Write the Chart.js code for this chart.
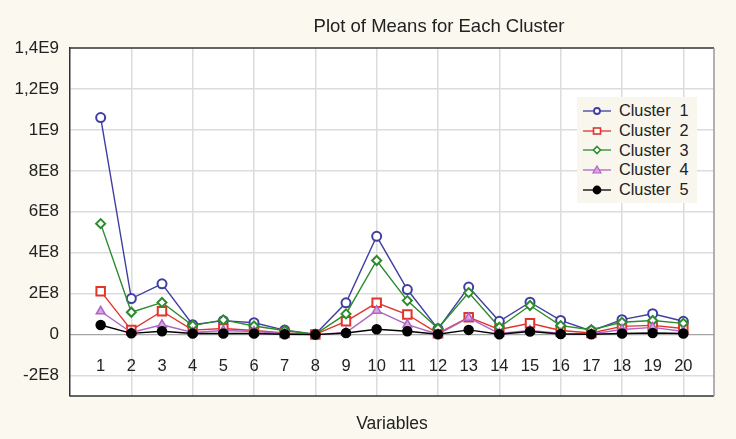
<!DOCTYPE html>
<html>
<head>
<meta charset="utf-8">
<title>Plot of Means for Each Cluster</title>
<script src="https://cdn.jsdelivr.net/npm/chart.js@4.4.0/dist/chart.umd.min.js"></script>
<style>
  html, body { margin: 0; padding: 0; background: #fbf8ef; }
  #wrap { position: relative; width: 736px; height: 439px; font-family: "Liberation Sans", Arial, sans-serif; color: #222; }
  #title { position: absolute; left: 239px; top: 15px; width: 400px; text-align: center; font-size: 18.5px; line-height: 21px; }
  #legend { position: absolute; left: 577px; top: 97px; width: 120px; height: 106px; background: #f9f6ee; padding-top: 4px; box-sizing: border-box; }
  #legend .row { height: 19.7px; display: flex; align-items: center; font-size: 16.3px; white-space: pre; }
  #legend svg { margin-left: 6px; margin-right: 8px; }
</style>
</head>
<body>
<div id="wrap">
  <canvas id="chart" width="736" height="439"></canvas>
  <div id="title">Plot of Means for Each Cluster</div>
  <div id="legend"></div>
</div>
<script>
const categories = ['1','2','3','4','5','6','7','8','9','10','11','12','13','14','15','16','17','18','19','20'];
const seriesNames = ['Cluster  1', 'Cluster  2', 'Cluster  3', 'Cluster  4', 'Cluster  5'];

const cluster1 = [1.06e9, 1.76e8, 2.48e8, 4.8e7, 6.8e7, 5.8e7, 2.2e7, 2e6, 1.55e8, 4.8e8, 2.2e8, 2.8e7, 2.32e8, 6.5e7, 1.58e8, 6.9e7, 1.8e7, 7.3e7, 1.02e8, 6.5e7];
const cluster2 = [2.12e8, 2.2e7, 1.14e8, 2.2e7, 3.0e7, 2.0e7, 8e6, 1e6, 6.5e7, 1.55e8, 9.8e7, 6e6, 8.5e7, 2.5e7, 5.5e7, 2.0e7, 8e6, 4e7, 4.5e7, 3e7];
const cluster3 = [5.42e8, 1.09e8, 1.57e8, 4.4e7, 7.2e7, 4.2e7, 2e7, 1e6, 1.01e8, 3.62e8, 1.66e8, 3e7, 2.05e8, 3.6e7, 1.42e8, 4.4e7, 2.4e7, 6e7, 6.9e7, 5.5e7];
const cluster4 = [1.14e8, 1e7, 4.8e7, 1e7, 2e7, 1.5e7, 5e6, 0, 1e7, 1.17e8, 4.9e7, 2e6, 8.2e7, 5e6, 2e7, 5e6, 3e6, 2.5e7, 3.5e7, 1.5e7];
const cluster5 = [4.7e7, 6e6, 1.6e7, 5e6, 5e6, 5e6, 2e6, 0, 8e6, 2.6e7, 1.6e7, 2e6, 2.3e7, 2e6, 1.5e7, 3e6, 2e6, 5e6, 8e6, 5e6];

const yTickValues = [-2e8, 0, 2e8, 4e8, 6e8, 8e8, 1e9, 1.2e9, 1.4e9];
const yTickLabels = ['-2E8', '0', '2E8', '4E8', '6E8', '8E8', '1E9', '1,2E9', '1,4E9'];

const allSeries = [cluster1, cluster2, cluster3, cluster4, cluster5];
const lineColors = ['#3f3fa3', '#e0352b', '#2c8c2c', '#b064c4', '#000000'];
const fillColors = ['#ffffff', '#ffffff', '#ffffff', '#d9a6e4', '#000000'];
const markers = ['circle', 'rect', 'rectRot', 'triangle', 'circle'];
const markerSizes = [4.5, 6, 4.5, 5, 4.5];

const fontFamily = '"Liberation Sans", Arial, sans-serif';

const datasets = allSeries.map((vals, i) => ({
  label: seriesNames[i],
  data: vals.map((v, j) => ({ x: j + 1, y: v })),
  borderColor: lineColors[i],
  backgroundColor: fillColors[i],
  borderWidth: 1.4,
  pointStyle: markers[i],
  pointRadius: markerSizes[i],
  pointBorderWidth: i < 3 ? 2 : 1.5,
  pointBorderColor: lineColors[i],
  pointBackgroundColor: fillColors[i],
  order: 5 - i,
  tension: 0
}));

// white plot area + frame
const plotFrame = {
  id: 'plotFrame',
  beforeDraw(chart) {
    const { ctx, chartArea: a } = chart;
    ctx.save();
    ctx.fillStyle = '#ffffff';
    ctx.fillRect(a.left, a.top, a.right - a.left, a.bottom - a.top);
    ctx.restore();
  },
  afterDraw(chart) {
    const { ctx, chartArea: a } = chart;
    ctx.save();
    ctx.lineWidth = 1.5;
    ctx.strokeStyle = '#333';
    ctx.beginPath();
    ctx.moveTo(a.left, a.top); ctx.lineTo(a.right, a.top);
    ctx.moveTo(a.left, a.bottom); ctx.lineTo(a.right, a.bottom);
    ctx.stroke();
    ctx.strokeStyle = '#999';
    ctx.beginPath();
    ctx.moveTo(a.right, a.top); ctx.lineTo(a.right, a.bottom);
    ctx.stroke();
    ctx.restore();
  }
};

const ctx = document.getElementById('chart').getContext('2d');
const myChart = new Chart(ctx, {
  type: 'line',
  data: { datasets: datasets },
  plugins: [plotFrame],
  options: {
    responsive: false,
    animation: false,
    layout: { padding: { top: 48, right: 3, left: 0, bottom: 0 } },
    plugins: {
      legend: { display: false },
      tooltip: { enabled: false },
      subtitle: {
        display: true,
        position: 'bottom',
        fullSize: false,
        text: 'Variables',
        color: '#222',
        font: { family: fontFamily, size: 17.5, weight: 'normal' },
        padding: { top: 18, bottom: 4 }
      }
    },
    scales: {
      x: {
        type: 'linear',
        min: 0,
        max: 21,
        position: { y: 0 },
        ticks: {
          stepSize: 1,
          autoSkip: false,
          maxRotation: 0,
          padding: 22,
          color: '#222',
          font: { family: fontFamily, size: 16.5 },
          callback: (v) => (v >= 1 && v <= categories.length ? categories[v - 1] : '')
        },
        grid: {
          drawTicks: false,
          lineWidth: 1.5,
          color: (c) => {
            const v = c.tick ? c.tick.value : 0;
            return (v > 0 && v < 21 && v % 2 === 0) ? '#dcdcdc' : 'rgba(0,0,0,0)';
          }
        },
        border: { display: true, color: '#a5a5a5', width: 1.2 }
      },
      y: {
        min: -3e8,
        max: 1.4e9,
        afterFit: (scale) => { scale.width = 70; },
        ticks: {
          stepSize: 1e8,
          autoSkip: false,
          padding: 11,
          color: '#222',
          font: { family: fontFamily, size: 17 },
          callback: (v) => {
            const k = yTickValues.findIndex(t => Math.abs(t - v) < 1000);
            return k >= 0 ? yTickLabels[k] : '';
          }
        },
        grid: {
          drawTicks: false,
          lineWidth: 1.5,
          color: (c) => {
            const v = c.tick ? c.tick.value : 0;
            const n = Math.round(v / 1e8);
            return (n % 2 === 0 && n >= -2 && n <= 12 && n !== 0) ? '#dcdcdc' : 'rgba(0,0,0,0)';
          }
        },
        border: { color: '#333', width: 1.5 }
      }
    }
  }
});

// legend
const legend = document.getElementById('legend');
seriesNames.forEach((name, i) => {
  const row = document.createElement('div');
  row.className = 'row';
  let mark = '';
  if (markers[i] === 'circle') mark = `<circle cx="14" cy="8" r="${i === 4 ? 3.5 : 3}" fill="${fillColors[i]}" stroke="${lineColors[i]}" stroke-width="1.8"/>`;
  if (markers[i] === 'rect') mark = `<rect x="10.5" y="5" width="7" height="6" fill="#fff" stroke="${lineColors[i]}" stroke-width="1.6"/>`;
  if (markers[i] === 'rectRot') mark = `<polygon points="14,4.5 17.5,8 14,11.5 10.5,8" fill="#fff" stroke="${lineColors[i]}" stroke-width="1.6"/>`;
  if (markers[i] === 'triangle') mark = `<polygon points="14,4 18,11 10,11" fill="${fillColors[i]}" stroke="${lineColors[i]}" stroke-width="1.2"/>`;
  row.innerHTML = `<svg width="28" height="16"><line x1="0" y1="8" x2="28" y2="8" stroke="${lineColors[i]}" stroke-width="1.3"/>${mark}</svg><span>${name}</span>`;
  legend.appendChild(row);
});
</script>
</body>
</html>
